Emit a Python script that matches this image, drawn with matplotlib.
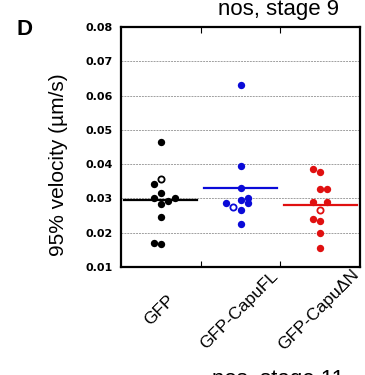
import numpy as np
import matplotlib
matplotlib.use('Agg')
import matplotlib.pyplot as plt

plt.rcParams['font.family'] = ['Liberation Sans', 'DejaVu Sans']

# Velocity per embryo (um/s), nos, stage 9
groups = ['GFP', 'GFP-CapuFL', 'GFP-Capu\u0394N']
gfp = [0.0465, 0.0357, 0.0342, 0.0317, 0.0301, 0.0302, 0.0292, 0.0284, 0.0247, 0.0169, 0.0167]
capu_fl = [0.0632, 0.0395, 0.0329, 0.0301, 0.0295, 0.0286, 0.0286, 0.0275, 0.0266, 0.0225]
capu_dn = [0.0387, 0.0377, 0.0327, 0.0327, 0.0290, 0.0290, 0.0266, 0.0239, 0.0235, 0.0200, 0.0155]

# swarm slot of each point (side-by-side placement of close values)
gfp_slot = [0, 0, -1, 0, -1, 2, 1, 0, 0, -1, 0]
capu_fl_slot = [0, 0, 0, 1, 0, -2, 1, -1, 0, 0]
capu_dn_slot = [-1, 0, 0, 1, -1, 1, 0, -1, 0, 0, 0]

# which point in each group is drawn hollow
open_idx = [1, 7, 6]

colors = ['black', '#0a0ad8', '#e01010']
yticks = [0.01, 0.02, 0.03, 0.04, 0.05, 0.06, 0.07, 0.08]

fig = plt.figure(figsize=(3.65, 3.75), dpi=100)
ax = fig.add_axes([121 / 365, 1 - 267 / 375, 239 / 365, 240 / 375])

slot_w = 0.09
for i, (vals, slots) in enumerate(zip([gfp, capu_fl, capu_dn],
                                      [gfp_slot, capu_fl_slot, capu_dn_slot])):
    xc = i + 0.5
    xs = xc + slot_w * np.array(slots)
    vals = np.array(vals)
    filled = np.ones(len(vals), bool)
    filled[open_idx[i]] = False
    ax.scatter(xs[filled], vals[filled], s=28, color=colors[i], linewidths=0, zorder=3)
    ax.scatter(xs[~filled], vals[~filled], s=20, facecolors='white',
               edgecolors=colors[i], linewidths=1.3, zorder=3)
    ax.plot([xc - 0.46, xc + 0.46], [vals.mean()] * 2, color=colors[i], lw=1.6, zorder=2)

ax.set_xlim(0, 3)
ax.set_ylim(0.01, 0.08)

for y in yticks[1:-1]:
    ax.axhline(y, color='#a0a0a0', lw=0.7, ls=(0, (2, 1)), zorder=1)

ax.set_yticks(yticks)
ax.set_yticklabels(['%.2f' % t for t in yticks], fontsize=8, fontweight='bold',
                   family='DejaVu Sans')
ax.tick_params(axis='y', length=0, pad=6)

# ticks between the groups, on top and bottom
ax.set_xticks([1, 2])
ax.set_xticklabels([])
ax.tick_params(axis='x', direction='in', length=4, width=0.8, top=True)
for i, name in enumerate(groups):
    ax.text(i + 0.48, -0.18, name, transform=ax.get_xaxis_transform(),
            rotation=45, ha='center', va='center', fontsize=12.5)

for sp in ax.spines.values():
    sp.set_linewidth(1.6)

fig.text(58 / 365, 1 - 165 / 375, '95% velocity (\u00b5m/s)', rotation=90,
         ha='center', va='center', fontsize=15)
fig.text(278 / 365, 1 - 15 / 375, 'nos, stage 9', ha='center', va='baseline', fontsize=16)
fig.text(16 / 365, 1 - 35 / 375, 'D', ha='left', va='baseline', fontsize=16, fontweight='bold')
fig.text(278 / 365, 1 - 369 / 375, 'nos, stage 11', ha='center', va='top', fontsize=16)

fig.savefig('out.png', dpi=100)
